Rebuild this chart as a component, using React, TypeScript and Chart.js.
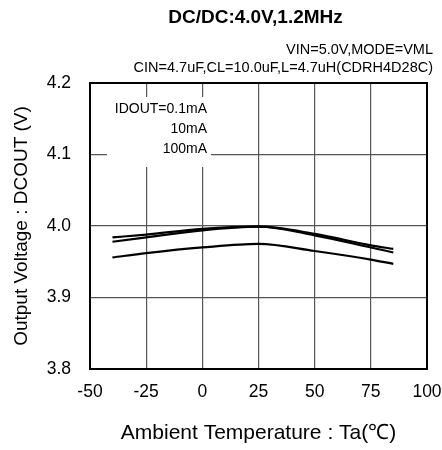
import React, { useEffect, useRef } from "react";
import { Chart, registerables } from "chart.js";

Chart.register(...registerables);

const temperatures = [-40, -25, 0, 25, 50, 75, 85];
const vout01mA = [3.984, 3.988, 3.996, 3.999, 3.989, 3.973, 3.968];
const vout10mA = [3.978, 3.984, 3.994, 3.999, 3.987, 3.970, 3.963];
const vout100mA = [3.956, 3.962, 3.970, 3.975, 3.965, 3.953, 3.947];
const seriesLabels = ["IDOUT=0.1mA", "10mA", "100mA"];
const xTicks = [-50, -25, 0, 25, 50, 75, 100];
const yTicks = [3.8, 3.9, 4.0, 4.1, 4.2];
const titleText = "DC/DC:4.0V,1.2MHz";
const subtitleLines = ["VIN=5.0V,MODE=VML", "CIN=4.7uF,CL=10.0uF,L=4.7uH(CDRH4D28C)"];
const xTitle = "Ambient Temperature : Ta(\u2103)";
const yTitle = "Output Voltage : DCOUT (V)";

const FONT = "'Liberation Sans', Arial, Helvetica, sans-serif";

export default function App() {
  const ref = useRef<HTMLCanvasElement | null>(null);

  useEffect(() => {
    if (!ref.current) return;
    const toPts = (ys: number[]) => temperatures.map((t, i) => ({ x: t, y: ys[i] }));
    const mk = (label: string, ys: number[]) => ({
      label,
      data: toPts(ys),
      borderColor: "#000",
      backgroundColor: "#000",
      borderWidth: 2.2,
      pointRadius: 0,
      fill: false,
      cubicInterpolationMode: "monotone" as const,
    });

    const textPlugin = {
      id: "texts",
      beforeDatasetsDraw(chart: any) {
        const { ctx, chartArea } = chart;
        ctx.save();
        ctx.fillStyle = "#fff";
        ctx.fillRect(chartArea.left + 17, chartArea.top + 14, 104, 70);
        ctx.restore();
      },
      afterDraw(chart: any) {
        const { ctx, chartArea } = chart;
        ctx.save();
        ctx.fillStyle = "#000";
        ctx.font = `bold 19px ${FONT}`;
        ctx.textAlign = "center";
        ctx.textBaseline = "middle";
        ctx.fillText(titleText, (chartArea.left + chartArea.right) / 2 - 3, 18);
        ctx.font = `14.5px ${FONT}`;
        ctx.textAlign = "right";
        ctx.fillText(subtitleLines[0], chartArea.right + 6, 50);
        ctx.fillText(subtitleLines[1], chartArea.right + 6, 68);
        ctx.font = `14px ${FONT}`;
        const ax = chartArea.left + 117;
        seriesLabels.forEach((s, i) => {
          ctx.fillText(s, ax, chartArea.top + 26 + i * 20);
        });
        ctx.strokeStyle = "#000";
        ctx.lineWidth = 2;
        ctx.strokeRect(chartArea.left, chartArea.top, chartArea.right - chartArea.left, chartArea.bottom - chartArea.top);
        ctx.restore();
      },
    };

    const chart = new Chart(ref.current, {
      type: "line",
      data: {
        datasets: [mk(seriesLabels[0], vout01mA), mk(seriesLabels[1], vout10mA), mk(seriesLabels[2], vout100mA)],
      },
      options: {
        animation: false,
        responsive: false,
        maintainAspectRatio: false,
        layout: { padding: { top: 83, right: 15, left: 0, bottom: 0 } },
        plugins: {
          legend: { display: false },
          title: { display: false },
          tooltip: { enabled: false },
        },
        scales: {
          x: {
            type: "linear",
            min: xTicks[0],
            max: xTicks[xTicks.length - 1],
            afterBuildTicks: (s: any) => {
              s.ticks = xTicks.map((v) => ({ value: v }));
            },
            afterFit: (s: any) => {
              s.height = 81;
              s.paddingLeft = 0;
              s.paddingRight = 0;
            },
            ticks: {
              color: "#000",
              font: { family: FONT, size: 17.5 },
              padding: 13,
              maxRotation: 0,
              autoSkip: false,
            },
            grid: { color: "#555", lineWidth: 1.2, drawTicks: false },
            border: { display: false },
            title: {
              display: true,
              text: xTitle,
              color: "#000",
              font: { family: FONT, size: 21 },
              padding: { top: 0, bottom: 4 },
            },
          },
          y: {
            type: "linear",
            min: yTicks[0],
            max: yTicks[yTicks.length - 1],
            afterBuildTicks: (s: any) => {
              s.ticks = yTicks.map((v) => ({ value: v }));
            },
            afterFit: (s: any) => {
              s.width = 90;
              s.paddingTop = 0;
              s.paddingBottom = 0;
            },
            ticks: {
              color: "#000",
              font: { family: FONT, size: 17.5 },
              padding: 19,
              callback: (v: any) => Number(v).toFixed(1),
            },
            grid: { color: "#555", lineWidth: 1.2, drawTicks: false },
            border: { display: false },
            title: {
              display: true,
              text: yTitle,
              color: "#000",
              font: { family: FONT, size: 19 },
              padding: { top: 10, bottom: 0 },
            },
          },
        },
      },
      plugins: [textPlugin],
    });
    return () => chart.destroy();
  }, []);

  return (
    <div style={{ position: "absolute", left: 0, top: 0, width: 442, height: 450, background: "#fff" }}>
      <canvas ref={ref} width={442} height={450} style={{ width: 442, height: 450 }} />
    </div>
  );
}
